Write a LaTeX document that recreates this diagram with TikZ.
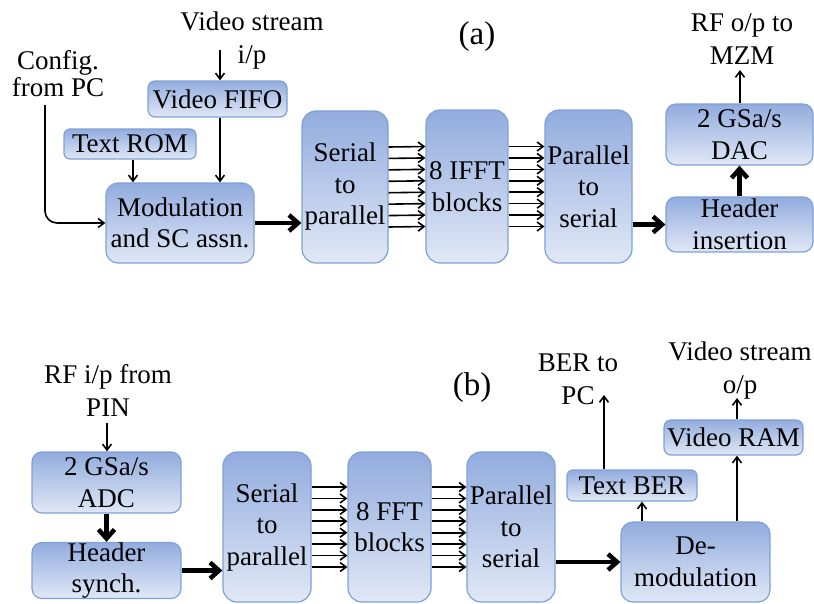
\documentclass[tikz,border=0pt]{standalone}
\usepackage{fontspec}
\setmainfont{Liberation Serif}
\usetikzlibrary{arrows.meta,calc}
\definecolor{boxtop}{HTML}{92ACDE}
\definecolor{boxbot}{HTML}{E1E8F6}
\definecolor{boxline}{HTML}{7EA1D6}
\tikzset{
  blk/.style={draw=boxline, line width=1.2pt, top color=boxtop, bottom color=boxbot,
    align=center, inner sep=0pt, font=\fontsize{27}{31.5}\selectfont},
  lbl/.style={align=center, inner sep=0pt, font=\fontsize{27}{33}\selectfont},
  tag/.style={inner sep=0pt, font=\fontsize{33}{36}\selectfont},
  sig/.style={line width=1.6pt, -{Straight Barb[length=6pt,width=9pt]}},
  bus/.style={line width=4.5pt, -{Straight Barb[length=9pt,width=16pt]}},
}
\begin{document}
\begin{tikzpicture}[x=1pt, y=-1pt]
\useasboundingbox (0,0) rectangle (814,603);

% ---------- (a) transmitter ----------
\node[blk, minimum width=139pt, minimum height=36pt, rounded corners=7pt] (vfifo) at (217.5,99) {Video FIFO};
\node[blk, minimum width=132pt, minimum height=30pt, rounded corners=6pt] (trom) at (130,144) {Text ROM};
\node[blk, minimum width=148pt, minimum height=80pt, rounded corners=12pt] (mod) at (180,223) {Modulation\\and SC assn.};
\node[blk, minimum width=86pt, minimum height=152pt, rounded corners=14pt] (sp) at (345,187) {Serial\\to\\parallel};
\node[blk, minimum width=82pt, minimum height=153pt, rounded corners=14pt] (ifft) at (467,186.5) {8 IFFT\\blocks};
\node[blk, minimum width=87pt, minimum height=153pt, rounded corners=14pt] (ps) at (588.5,186.5) {Parallel\\to\\serial};
\node[blk, minimum width=147pt, minimum height=55pt, rounded corners=10pt] (hi) at (739.5,224.5) {Header\\insertion};
\node[blk, minimum width=147pt, minimum height=61pt, rounded corners=10pt] (dac) at (739.5,134.5) {2 GSa/s\\DAC};

\node[lbl] (vinlbl) at (252,41) {Video stream\\i/p};
\node[lbl, font=\fontsize{27}{27}\selectfont] (cfglbl) at (58,74) {Config.\\from PC};
\node[tag] (alab) at (477,37) {(a)};
\node[lbl] (rfout) at (742,39) {RF o/p to\\MZM};

\coordinate (vin) at (220,50);
\coordinate (cfg) at (45,105);
\coordinate (dacout) at (740,70);

\draw[sig] (vin) -- (vin |- vfifo.north);
\draw[sig] (vin |- vfifo.south) -- (vin |- mod.north);
\draw[sig] (trom.south -| 133,0) -- (133,0 |- mod.north);
\draw[sig, rounded corners=12pt] (cfg) |- (mod.west);
\draw[bus] (mod.east) -- (sp.west |- mod.east);
\foreach \k in {0,...,7}{
  \draw[sig] ([yshift={40-\k*80/7}]sp.east) -- ([yshift={40-\k*80/7}]ifft.west);
  \draw[sig] ([yshift={40-\k*80/7}]ifft.east) -- ([yshift={40-\k*80/7}]ps.west);
}
\draw[bus] (ps.east |- hi.west) -- (hi.west);
\draw[bus] (hi.north) -- (dac.south);
\draw[sig] (dac.north -| dacout) -- (dacout);

% ---------- (b) receiver ----------
\node[blk, minimum width=149pt, minimum height=61pt, rounded corners=10pt] (adc) at (106.5,482.5) {2 GSa/s\\ADC};
\node[blk, minimum width=149pt, minimum height=55pt, rounded corners=10pt] (hs) at (106.5,570.5) {Header\\synch.};
\node[blk, minimum width=88pt, minimum height=150pt, rounded corners=14pt] (sp2) at (267,527) {Serial\\to\\parallel};
\node[blk, minimum width=83pt, minimum height=150pt, rounded corners=14pt] (fft) at (389.5,527) {8 FFT\\blocks};
\node[blk, minimum width=88pt, minimum height=150pt, rounded corners=14pt] (ps2) at (511,527) {Parallel\\to\\serial};
\node[blk, minimum width=149pt, minimum height=80pt, rounded corners=12pt] (demod) at (695.5,562) {De-\\modulation};
\node[blk, minimum width=130pt, minimum height=31pt, rounded corners=6pt] (tber) at (632,485.5) {Text BER};
\node[blk, minimum width=139pt, minimum height=35pt, rounded corners=7pt] (vram) at (733.5,437.5) {Video RAM};

\node[lbl] (rfin) at (108,390) {RF i/p from\\PIN};
\node[tag] (blab) at (472,388) {(b)};
\node[lbl] (berlbl) at (578,379) {BER to\\PC};
\node[lbl] (voutlbl) at (740,370) {Video stream\\o/p};

\coordinate (rfsrc) at (107,423);
\coordinate (berout) at (604,395);
\coordinate (vidout) at (737,398);
\coordinate (bx) at (642,0);

\draw[sig] (rfsrc) -- (rfsrc |- adc.north);
\draw[bus] (adc.south) -- (hs.north);
\draw[bus] (hs.east) -- (sp2.west |- hs.east);
\foreach \k in {0,...,7}{
  \draw[sig] ([yshift={40-\k*80/7}]sp2.east) -- ([yshift={40-\k*80/7}]fft.west);
  \draw[sig] ([yshift={40-\k*80/7}]fft.east) -- ([yshift={40-\k*80/7}]ps2.west);
}
\draw[bus] (ps2.east |- demod.west) -- (demod.west);
\draw[sig] (bx |- demod.north) -- (bx |- tber.south);
\draw[sig] (berout |- tber.north) -- (berout);
\draw[sig] (vidout |- demod.north) -- (vidout |- vram.south);
\draw[sig] (vidout |- vram.north) -- (vidout);
\end{tikzpicture}
\end{document}
